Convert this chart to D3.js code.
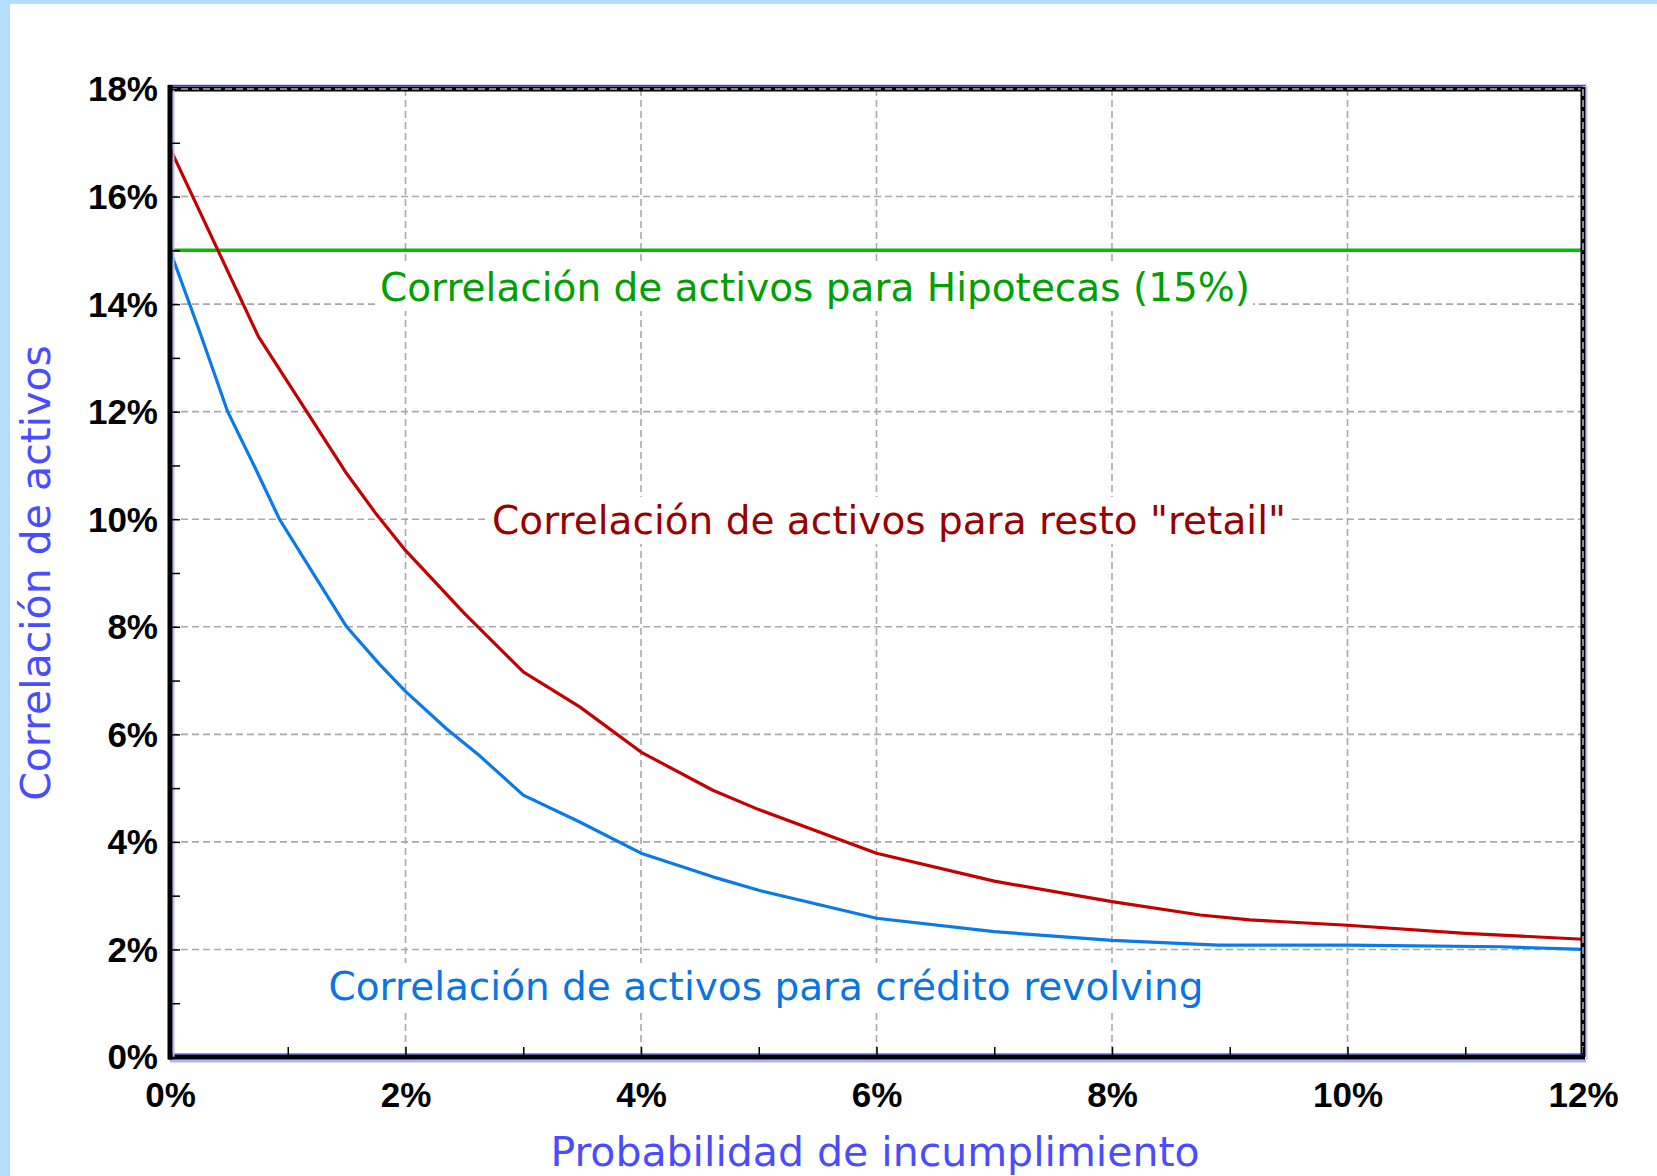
<!DOCTYPE html>
<html>
<head>
<meta charset="utf-8">
<script src="https://cdn.jsdelivr.net/npm/d3@7"></script>
<style>
  html, body { margin: 0; padding: 0; background: #b4dcfb; }
  svg { display: block; }
</style>
</head>
<body>
<div id="chart"></div>
<script>
// PD (%) and asset correlation (%)
const retailPD   = [0, 0.75, 1.0, 1.25, 1.5, 1.75, 2.0, 2.5, 3.0, 3.48, 4.0, 4.61, 5.0, 6.0, 7.0, 8.0, 8.75, 9.17, 10.0, 11.0, 12.0];
const retailCorr = [16.9, 13.4, 12.55, 11.7, 10.85, 10.1, 9.42, 8.25, 7.16, 6.51, 5.67, 4.96, 4.6, 3.79, 3.27, 2.89, 2.64, 2.55, 2.45, 2.3, 2.19];

const revolvPD   = [0, 0.25, 0.49, 0.72, 0.93, 1.2, 1.5, 1.78, 2.0, 2.35, 2.63, 3.0, 3.48, 4.0, 4.61, 5.0, 6.0, 7.0, 8.0, 8.9, 10.0, 11.3, 12.0];
const revolvCorr = [15.0, 13.5, 12.0, 10.97, 10.0, 9.05, 8.0, 7.3, 6.8, 6.1, 5.6, 4.87, 4.37, 3.79, 3.35, 3.1, 2.58, 2.33, 2.17, 2.08, 2.08, 2.05, 2.0];

const mortgagePD   = [0, 12];
const mortgageCorr = [15, 15];

const xTicks = [0, 1, 2, 3, 4, 5, 6, 7, 8, 9, 10, 11, 12];
const yTicks = [0, 1, 2, 3, 4, 5, 6, 7, 8, 9, 10, 11, 12, 13, 14, 15, 16, 17, 18];

const labelMortgage = "Correlación de activos para Hipotecas (15%)";
const labelRetail = "Correlación de activos para resto \"retail\"";
const labelRevolv = "Correlación de activos para crédito revolving";
const xTitle = "Probabilidad de incumplimiento";
const yTitle = "Correlación de activos";

const W = 1657;
const H = 1176;
const pLeft = 170, pRight = 1583, pTop = 89, pBottom = 1057;

var svg = d3.select("#chart").append("svg")
  .attr("width", W)
  .attr("height", H);

// panel
svg.append("rect").attr("x", 0).attr("y", 0).attr("width", W).attr("height", H).attr("fill", "#b4dcfb");
svg.append("rect").attr("x", 10).attr("y", 4).attr("width", W - 10).attr("height", H - 4).attr("fill", "#ffffff");

var x = d3.scaleLinear().domain([0, 12]).range([pLeft, pRight]);
var y = d3.scaleLinear().domain([0, 18]).range([pBottom, pTop]);

// grid
var grid = svg.append("g").attr("stroke", "#a9a9a9").attr("stroke-width", 1.6).attr("stroke-dasharray", "7,4");
grid.selectAll("line.h")
  .data(yTicks.filter(d => d % 2 === 0 && d > 0 && d < 18))
  .enter().append("line")
  .attr("x1", pLeft).attr("x2", pRight)
  .attr("y1", d => y(d)).attr("y2", d => y(d));
grid.selectAll("line.v")
  .data(xTicks.filter(d => d % 2 === 0 && d > 0 && d < 12))
  .enter().append("line")
  .attr("x1", d => x(d)).attr("x2", d => x(d))
  .attr("y1", pTop).attr("y2", pBottom);

// labels with white boxes
function label(txt, cx, base, color) {
  var g = svg.append("g");
  var t = g.append("text")
    .attr("x", cx).attr("y", base)
    .attr("text-anchor", "middle")
    .attr("font-family", "DejaVu Sans, Verdana, sans-serif")
    .attr("font-size", 39)
    .attr("fill", color)
    .text(txt);
  var bb = t.node().getBBox();
  g.insert("rect", "text")
    .attr("x", bb.x - 3).attr("y", bb.y - 1)
    .attr("width", bb.width + 6).attr("height", bb.height + 2)
    .attr("fill", "#ffffff");
}
label(labelMortgage, 815, 301, "#00a000");
label(labelRetail, 889, 534, "#990000");
label(labelRevolv, 766, 1000, "#0a74e2");

// series
var line = d3.line().x(d => x(d[0])).y(d => y(d[1]));
svg.append("path")
  .datum(d3.zip(mortgagePD, mortgageCorr))
  .attr("fill", "none").attr("stroke", "#00c000").attr("stroke-width", 3.5)
  .attr("d", line);
svg.append("path")
  .datum(d3.zip(retailPD, retailCorr))
  .attr("fill", "none").attr("stroke", "#c40000").attr("stroke-width", 3.2)
  .attr("stroke-linejoin", "round")
  .attr("d", line);
svg.append("path")
  .datum(d3.zip(revolvPD, revolvCorr))
  .attr("fill", "none").attr("stroke", "#0a7ae6").attr("stroke-width", 3.2)
  .attr("stroke-linejoin", "round")
  .attr("d", line);

// frame
var frame = svg.append("g");
frame.append("line").attr("x1", pLeft - 2).attr("x2", pRight + 3).attr("y1", pTop - 3.5).attr("y2", pTop - 3.5)
  .attr("stroke", "#3b3bff").attr("stroke-width", 1.5);
frame.append("line").attr("x1", pLeft).attr("x2", pRight).attr("y1", pTop).attr("y2", pTop)
  .attr("stroke", "#000").attr("stroke-width", 5);
frame.append("line").attr("x1", pLeft).attr("x2", pRight).attr("y1", pTop).attr("y2", pTop)
  .attr("stroke", "#b0b0b0").attr("stroke-width", 1.6).attr("stroke-dasharray", "7,4");
frame.append("line").attr("x1", pRight + 3.5).attr("x2", pRight + 3.5).attr("y1", pTop - 3).attr("y2", pBottom + 3)
  .attr("stroke", "#c8c8ff").attr("stroke-width", 2);
frame.append("line").attr("x1", pRight).attr("x2", pRight).attr("y1", pTop - 2).attr("y2", pBottom)
  .attr("stroke", "#000").attr("stroke-width", 5);
frame.append("line").attr("x1", pRight).attr("x2", pRight).attr("y1", pTop).attr("y2", pBottom)
  .attr("stroke", "#b0b0b0").attr("stroke-width", 1.6).attr("stroke-dasharray", "7,4");
frame.append("line").attr("x1", pLeft).attr("x2", pRight + 3).attr("y1", pBottom + 4).attr("y2", pBottom + 4)
  .attr("stroke", "#b0b0ff").attr("stroke-width", 3);
frame.append("line").attr("x1", pLeft - 2).attr("x2", pRight + 2).attr("y1", pBottom).attr("y2", pBottom)
  .attr("stroke", "#000").attr("stroke-width", 5);
frame.append("line").attr("x1", pLeft).attr("x2", pRight).attr("y1", pBottom - 3).attr("y2", pBottom - 3)
  .attr("stroke", "#2020e0").attr("stroke-width", 1.2);
frame.append("line").attr("x1", pLeft + 3.5).attr("x2", pLeft + 3.5).attr("y1", pTop).attr("y2", pBottom)
  .attr("stroke", "#b8b8ff").attr("stroke-width", 2);
frame.append("line").attr("x1", pLeft).attr("x2", pLeft).attr("y1", pTop - 4).attr("y2", pBottom + 2.5)
  .attr("stroke", "#000").attr("stroke-width", 5);

// axes
var yAxis = d3.axisLeft(y)
  .tickValues(yTicks)
  .tickSize(-8)
  .tickPadding(12)
  .tickFormat(d => d % 2 === 0 ? d + "%" : "");
var gy = svg.append("g").attr("transform", "translate(" + (pLeft + 2) + ",0)").call(yAxis);

var xAxis = d3.axisBottom(x)
  .tickValues(xTicks)
  .tickSize(-8)
  .tickPadding(25)
  .tickFormat(d => d % 2 === 0 ? d + "%" : "");
var gx = svg.append("g").attr("transform", "translate(0," + (pBottom - 2) + ")").call(xAxis);

[gx, gy].forEach(function (g) {
  g.select(".domain").remove();
  g.selectAll(".tick line").attr("stroke", "#000").attr("stroke-width", 1.5);
  g.selectAll(".tick text")
    .attr("font-family", "Liberation Sans, Arial, sans-serif")
    .attr("font-size", 35)
    .attr("font-weight", "bold")
    .attr("fill", "#000");
});
gy.selectAll(".tick text").attr("x", -14).attr("dy", "0.34em");
gx.selectAll(".tick text").attr("y", 27);

// axis titles
svg.append("text")
  .attr("x", 875).attr("y", 1166)
  .attr("text-anchor", "middle")
  .attr("font-family", "DejaVu Sans, Verdana, sans-serif")
  .attr("font-size", 41)
  .attr("fill", "#4b4bff")
  .text(xTitle);
svg.append("text")
  .attr("transform", "translate(50,573) rotate(-90)")
  .attr("text-anchor", "middle")
  .attr("font-family", "DejaVu Sans, Verdana, sans-serif")
  .attr("font-size", 41)
  .attr("fill", "#4b4bff")
  .text(yTitle);
</script>
</body>
</html>
